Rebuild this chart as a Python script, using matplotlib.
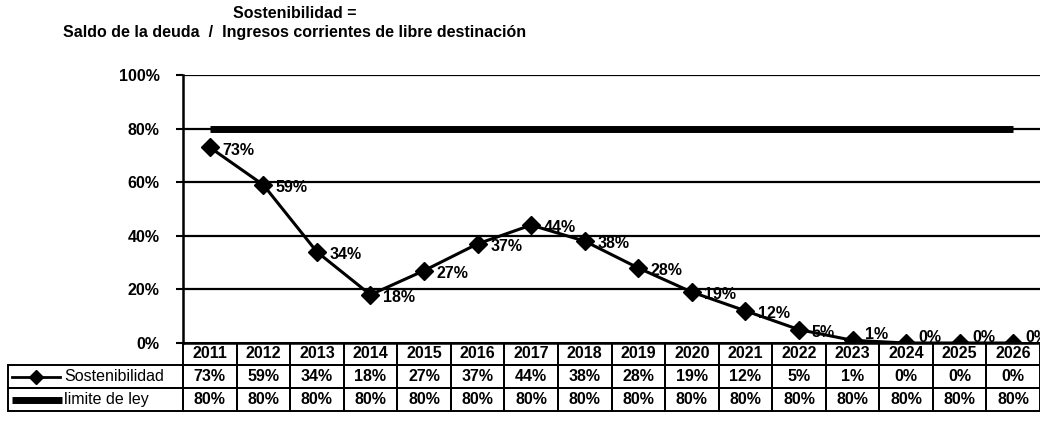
import numpy as np
import matplotlib
matplotlib.use("Agg")
import matplotlib.pyplot as plt
from matplotlib.patches import Rectangle

plt.rcParams['font.family'] = ['Liberation Sans', 'DejaVu Sans']

# datos
years = ['2011', '2012', '2013', '2014', '2015', '2016', '2017', '2018',
         '2019', '2020', '2021', '2022', '2023', '2024', '2025', '2026']
sostenibilidad = [73, 59, 34, 18, 27, 37, 44, 38, 28, 19, 12, 5, 1, 0, 0, 0]
limite_ley = [80, 80, 80, 80, 80, 80, 80, 80, 80, 80, 80, 80, 80, 80, 80, 80]
y_ticks = [0, 20, 40, 60, 80, 100]

W, H = 1040, 437
fig = plt.figure(figsize=(W / 100, H / 100), dpi=100)
ax_left, ax_right, ax_top, ax_bot = 183, 1040, 75, 343
ax = fig.add_axes([ax_left / W, 1 - ax_bot / H,
                   (ax_right - ax_left) / W, (ax_bot - ax_top) / H])

x = np.arange(len(years))
ax.set_xlim(-0.5, len(years) - 0.5)
ax.set_ylim(0, 100)

# lineas de referencia
for t in y_ticks[1:]:
    ax.axhline(t, color='black', lw=1.6, zorder=1)

ax.plot(x, limite_ley, color='black', lw=5, solid_capstyle='butt', zorder=2)
ax.plot(x, sostenibilidad, color='black', lw=2.2, marker='D', markersize=9,
        zorder=3)

# etiquetas; las cercanas a 0 se suben un poco para no tapar la tabla
for xi, v in zip(x, sostenibilidad):
    dy = -2 if v > 2 else 4
    ax.annotate(f'{v}%', (xi, v), xytext=(9, dy), textcoords='offset points',
                ha='left', va='center', fontsize=11.5, fontweight='bold')

ax.set_yticks(y_ticks)
ax.set_yticklabels([f'{t}%' for t in y_ticks], fontsize=11.5, fontweight='bold')
ax.tick_params(axis='y', length=5, width=1.5, pad=12)
ax.set_xticks([])
for s in ['top', 'right']:
    ax.spines[s].set_visible(False)
ax.spines['left'].set_linewidth(1.8)
ax.spines['bottom'].set_linewidth(1.8)

# tabla de datos (x en datos, y en fraccion del eje)
tr = ax.get_xaxis_transform()
col_w = (ax_right - ax_left) / len(years)


def py(p):
    return (ax_bot - p) / (ax_bot - ax_top)


def px(p):
    return (p - ax_left) / col_w - 0.5


rows = [(343, 365), (365, 388), (388, 411)]
lab_x0 = px(8)

# encabezado
y0, y1 = py(rows[0][1]), py(rows[0][0])
for xi, yr in zip(x, years):
    ax.add_patch(Rectangle((xi - 0.5, y0), 1, y1 - y0, transform=tr,
                           fill=False, lw=1.4, ec='black', clip_on=False))
    ax.text(xi, (y0 + y1) / 2, yr, transform=tr, ha='center', va='center',
            fontsize=11.5, fontweight='bold', clip_on=False)

series = [('Sostenibilidad', sostenibilidad), ('limite de ley', limite_ley)]
for (name, vals), (r0, r1) in zip(series, rows[1:]):
    y0, y1 = py(r1), py(r0)
    ym = (y0 + y1) / 2
    ax.add_patch(Rectangle((lab_x0, y0), -0.5 - lab_x0, y1 - y0, transform=tr,
                           fill=False, lw=1.4, ec='black', clip_on=False))
    for xi, v in zip(x, vals):
        ax.add_patch(Rectangle((xi - 0.5, y0), 1, y1 - y0, transform=tr,
                               fill=False, lw=1.4, ec='black', clip_on=False))
        ax.text(xi, ym, f'{v}%', transform=tr, ha='center', va='center',
                fontsize=11.5, fontweight='bold', clip_on=False)
    if name == 'Sostenibilidad':
        ax.plot([px(12), px(60)], [ym, ym], transform=tr, color='black',
                lw=2, clip_on=False)
        ax.plot([px(36)], [ym], transform=tr, color='black', marker='D',
                markersize=7, clip_on=False)
    else:
        ax.plot([px(12), px(62)], [ym, ym], transform=tr, color='black',
                lw=5, solid_capstyle='butt', clip_on=False)
    ax.text(px(64), ym, name, transform=tr, ha='left', va='center',
            fontsize=11.5, clip_on=False)

# titulo
fig.text(295 / W, 1 - 14 / H, 'Sostenibilidad =', ha='center', va='center',
         fontsize=11.5, fontweight='bold')
fig.text(295 / W, 1 - 32 / H,
         'Saldo de la deuda  /  Ingresos corrientes de libre destinación',
         ha='center', va='center', fontsize=11.5, fontweight='bold')

fig.savefig('out.png', dpi=100)
